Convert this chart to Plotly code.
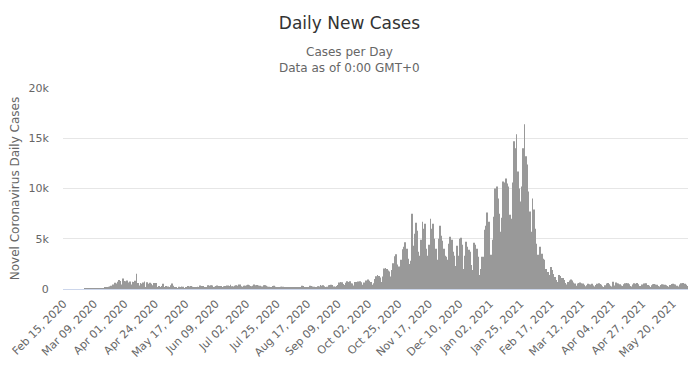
import pandas as pd
import plotly.graph_objects as go

# ---- data (daily new cases) ----
feb_2020 = [0] * 15
mar_2020 = [0, 2, 2, 1, 4, 4, 8, 9, 9, 11, 18, 19, 34, 57, 76, 86, 117, 194, 143, 235,
            260, 320, 460, 302, 633, 549, 724, 902, 792, 446, 1035]
apr_2020 = [808, 783, 852, 638, 754, 452, 712, 699, 815, 1516, 598, 349, 598, 514, 643,
            750, 181, 663, 521, 629, 516, 371, 603, 444, 595, 163, 305, 183, 295, 533]
may_2020 = [181, 295, 92, 242, 163, 378, 553, 326, 138, 200, 98, 234, 193, 247, 226, 93,
            209, 175, 291, 252, 288, 223, 185, 172, 165, 219, 195, 350, 304, 288, 176]
jun_2020 = [179, 195, 366, 331, 377, 346, 197, 230, 294, 350, 294, 300, 290, 150, 284,
            299, 345, 350, 303, 417, 264, 259, 311, 367, 311, 451, 457, 266, 229, 313]
jul_2020 = [328, 374, 413, 374, 310, 265, 328, 443, 374, 402, 342, 314, 234, 242, 375,
            372, 312, 252, 231, 177, 132, 295, 313, 226, 204, 132, 135, 226, 229, 223, 154]
aug_2020 = [193, 126, 106, 204, 210, 141, 167, 164, 144, 96, 154, 159, 325, 290, 159, 178,
            139, 160, 320, 290, 252, 232, 181, 140, 280, 253, 401, 330, 370, 280, 196]
sep_2020 = [224, 374, 401, 425, 396, 247, 224, 309, 409, 646, 687, 673, 489, 389, 613,
            770, 691, 780, 552, 552, 342, 691, 691, 750, 612, 780, 660, 423, 648, 848]
oct_2020 = [850, 950, 830, 700, 430, 580, 1000, 1280, 1390, 1300, 1150, 700, 1250, 2050,
            2100, 2000, 1850, 1750, 1250, 1900, 2550, 3250, 3450, 2450, 2250, 1950, 2900,
            3950, 4200, 4650, 4000]
nov_2020 = [3000, 2500, 2800, 7500, 4300, 5500, 6600, 5800, 3700, 3300, 4900, 6700, 6000,
            6500, 4000, 3300, 4400, 7000, 6000, 6500, 5000, 4000, 2900, 5000, 6300, 5300,
            4800, 4000, 3300, 3200]
dec_2020 = [2900, 4500, 5200, 4900, 3700, 3300, 2300, 4300, 3300, 5000, 5100, 4400, 2000,
            3300, 4700, 4200, 3900, 3700, 2400, 1900, 4600, 4400, 4000, 3200, 1400, 2000,
            3200, 3200, 5900, 6300, 7600]
jan_2021 = [6700, 3200, 3400, 4900, 7200, 10000, 10200, 9000, 7500, 5700, 7100, 10700,
            10600, 11000, 10500, 10200, 7400, 7000, 10600, 14700, 14000, 15400, 11700,
            10000, 8700, 10200, 14000, 16400, 13200, 12400, 9700]
feb_2021 = [7700, 5700, 9000, 7900, 6000, 4500, 3400, 2400, 4200, 3500, 3000, 2900, 2000,
            1000, 1700, 1400, 2200, 1900, 1500, 1200, 900, 700, 1400, 1300, 1100, 1100,
            900, 600]
mar_2021 = [450, 700, 850, 950, 850, 650, 550, 320, 540, 600, 650, 580, 540, 430, 270, 380,
            530, 480, 450, 510, 360, 240, 410, 520, 560, 500, 420, 280, 200, 380, 550]
apr_2021 = [600, 480, 330, 250, 730, 350, 650, 580, 540, 480, 350, 300, 470, 580, 600, 560,
            480, 300, 250, 460, 570, 520, 600, 480, 310, 230, 450, 550, 520, 580]
may_2021 = [400, 330, 200, 380, 480, 500, 450, 420, 300, 250, 400, 480, 450, 430, 380, 300,
            230, 400, 500, 520, 480, 450, 320, 250, 450, 560, 480, 600, 520, 420, 300]

start_date = "2020-02-15"
y_ticks = [0, 5000, 10000, 15000, 20000]
y_tick_labels = ["0", "5k", "10k", "15k", "20k"]
tick_every = 23

values = (feb_2020 + mar_2020 + apr_2020 + may_2020 + jun_2020 + jul_2020 + aug_2020 +
          sep_2020 + oct_2020 + nov_2020 + dec_2020 + jan_2021 + feb_2021 + mar_2021 +
          apr_2021 + may_2021)
dates = pd.date_range(start_date, periods=len(values), freq="D")
categories = [d.strftime("%b %d, %Y") for d in dates]
tick_labels = categories[::tick_every]

FONT = "DejaVu Sans"
# the page body has an 8px margin, so the figure is sized to fit inside it
W, H = 691, 360
ML, MR, MT, MB = 55, 11, 80, 79
plot_w = W - ML - MR
center_paper = (349.5 - 8 - ML) / plot_w

fig = go.Figure(go.Bar(
    x=categories, y=values,
    marker=dict(color="#999999", line=dict(width=0)),
    hovertemplate="%{x}<br>%{y}<extra></extra>",
))

fig.update_layout(
    width=W, height=H,
    margin=dict(l=ML, r=MR, t=MT, b=MB, autoexpand=False),
    paper_bgcolor="white", plot_bgcolor="white",
    bargap=0.4,
    showlegend=False,
    font=dict(family=FONT, color="#666666", size=11),
    title=dict(text="Daily New Cases", x=(349.5 - 8) / W, xanchor="center",
               y=1 - 15 / H, yanchor="middle", yref="container",
               font=dict(family=FONT, size=17, color="#333333")),
    annotations=[
        dict(text="Cases per Day", xref="paper", yref="paper", x=center_paper, y=1,
             yshift=36, showarrow=False, xanchor="center", yanchor="middle",
             font=dict(family=FONT, size=12, color="#666666")),
        dict(text="Data as of 0:00 GMT+0", xref="paper", yref="paper", x=center_paper,
             y=1, yshift=20, showarrow=False, xanchor="center", yanchor="middle",
             font=dict(family=FONT, size=12, color="#666666")),
    ],
    xaxis=dict(type="category", tickmode="array", tickvals=tick_labels,
               ticktext=tick_labels, tickangle=-45, showgrid=False,
               showline=True, linecolor="#ccd6eb", linewidth=1,
               ticks="outside", ticklen=3, tickcolor="rgba(0,0,0,0)",
               tickfont=dict(family=FONT, size=11, color="#666666")),
    yaxis=dict(range=[0, 20000], tickmode="array", tickvals=y_ticks,
               ticktext=y_tick_labels, showgrid=True, gridcolor="#e6e6e6",
               zeroline=False, ticks="outside", ticklen=11,
               tickcolor="rgba(0,0,0,0)",
               tickfont=dict(family=FONT, size=11, color="#666666"),
               title=dict(text="Novel Coronavirus Daily Cases", standoff=8,
                          font=dict(family=FONT, size=12, color="#666666"))),
)

fig.write_html("out.html")
